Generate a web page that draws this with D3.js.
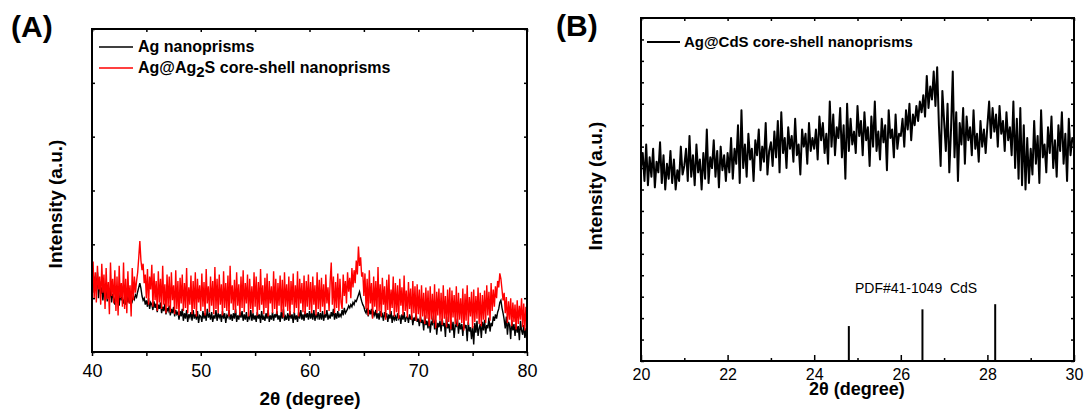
<!DOCTYPE html>
<html>
<head>
<meta charset="utf-8">
<script src="https://cdn.jsdelivr.net/npm/d3@7"></script>
<style>
  body { margin: 0; background: #fff; }
  svg { display: block; font-family: "Liberation Sans", Arial, sans-serif; }
  .frame { fill: none; stroke: #000; stroke-width: 2; }
  .axis path { display: none; }
  .axis line { stroke: #000; stroke-width: 1.5; }
  .axis text { fill: #000; }
</style>
</head>
<body>
<svg width="1088" height="414"></svg>
<script>
// ---- panel A: 2theta 40..80, one value every 0.1 degree ----
const aStart = 40, aEnd = 80
const agValues = [
  62,78,55,70,58,74,50,66,54,60,
  48,58,52,62,47,56,50,59,46,54,
  50,44,55,47,52,43,56,48,51,45,
  49,44,53,46,51,45,50,47,52,49,
  53,51,56,60,64,59,52,48,50,44,
  48,42,50,40,46,44,39,47,41,45,
  37,44,40,46,36,42,38,45,35,41,
  38,43,34,40,36,42,33,39,35,37,
  30,38,33,40,29,36,31,39,28,35,
  32,37,29,39,31,35,30,38,27,34,
  33,28,38,31,36,29,40,32,35,30,
  37,28,34,31,39,29,36,32,35,28,
  38,31,36,27,34,32,39,30,35,29,
  36,31,40,28,34,30,37,32,38,29,
  35,30,37,28,33,31,39,29,36,30,
  34,28,37,31,35,27,38,30,33,29,
  36,31,39,28,34,30,37,29,35,32,
  38,30,34,28,37,31,40,29,33,30,
  36,29,38,31,35,27,37,30,34,28,
  37,31,39,30,35,29,38,32,36,30,
  38,31,36,30,39,29,35,32,37,30,
  36,30,38,29,35,32,39,30,34,31,
  37,33,40,30,36,31,38,32,35,33,
  39,34,41,36,38,40,43,41,44,42,
  46,44,48,47,50,53,56,51,47,44,
  42,38,36,41,33,39,35,40,32,37,
  34,39,31,36,30,38,33,35,29,37,
  32,36,28,35,31,38,27,34,30,33,
  29,36,31,34,26,35,30,37,28,32,
  33,27,35,30,34,25,32,29,36,28,
  31,24,33,27,30,20,34,25,29,22,
  32,18,28,26,34,21,30,16,27,23,
  29,19,31,24,27,14,33,22,26,18,
  30,20,28,13,25,24,31,17,27,21,
  26,15,29,22,25,10,28,19,23,12,
  24,7,27,18,29,15,22,26,13,28,
  20,30,17,25,22,32,19,27,24,33,
  29,35,31,37,40,46,48,41,36,30,
  22,33,16,28,25,12,30,20,26,15,
  27,18,24,11,29,20,16,25,13,22,
  8
]
const agsValues = [
  62,84,50,74,46,80,58,70,44,82,
  55,72,40,78,49,65,35,83,52,68,
  45,76,38,70,34,80,50,64,42,83,
  40,68,36,75,45,62,33,78,48,70,
  55,66,74,88,103,85,76,82,64,72,
  50,77,44,70,58,81,42,73,48,66,
  38,75,46,68,40,80,44,63,36,72,
  42,70,37,74,48,62,35,76,40,66,
  34,69,45,72,38,64,41,78,36,60,
  44,71,35,66,40,74,33,68,46,62,
  38,73,42,65,34,77,45,61,37,70,
  43,66,35,79,40,68,36,72,44,63,
  34,75,41,64,38,71,33,80,45,62,
  39,67,36,74,43,63,34,70,41,76,
  37,64,45,72,33,68,40,61,36,74,
  42,70,34,65,39,77,44,62,35,69,
  41,73,33,66,45,61,36,75,40,68,
  35,64,43,71,37,67,32,74,42,63,
  38,70,34,66,44,73,36,62,41,75,
  33,68,45,64,37,71,35,66,42,72,
  39,65,36,70,44,62,34,74,40,67,
  37,69,42,63,35,72,45,60,38,66,
  83,44,70,36,65,41,73,38,68,46,
  40,72,52,66,45,74,56,69,50,78,
  60,76,64,85,72,98,80,88,70,74,
  52,73,40,68,34,76,45,64,31,70,
  42,66,36,79,38,63,33,69,44,61,
  30,67,39,72,35,58,41,70,33,64,
  37,62,31,68,43,60,34,71,38,57,
  32,65,40,59,30,66,36,61,29,63,
  35,58,28,62,33,55,26,60,31,57,
  24,61,30,54,27,63,22,56,34,59,
  29,55,25,62,31,52,23,58,28,60,
  21,57,32,53,26,61,24,55,30,50,
  27,59,20,54,29,62,25,51,33,56,
  22,58,28,52,31,60,26,55,24,53,
  30,57,27,62,34,56,29,64,38,58,
  42,61,50,66,60,73,68,58,48,55,
  36,51,27,47,30,50,24,46,28,44,
  21,48,26,43,30,50,23,45,20,42,
  26
]
const aTicks = [40, 45, 50, 55, 60, 65, 70, 75, 80]

// ---- panel B: 2theta 20..30, one value every 0.04 degree ----
const bStart = 20, bEnd = 30
const cdsValues = [
  90,97,84,101,82,95,86,99,81,93,88,102,83,96,80,92,85,98,83,94,80,89,84,100,87,
  91,99,84,105,86,96,82,101,88,94,80,97,85,108,83,95,90,103,86,98,81,100,89,96,84,
  97,88,104,85,99,92,110,83,117,90,101,86,106,94,99,84,103,96,108,89,100,93,111,87,98,
  102,91,107,95,112,88,116,97,104,90,109,99,105,93,113,96,101,87,108,100,106,92,111,98,104,
  99,108,94,114,103,111,97,106,92,121,100,115,96,109,104,118,95,110,85,120,98,113,101,107,97,
  119,105,112,96,116,103,109,91,114,100,121,98,107,94,113,102,110,89,117,104,108,95,115,99,106,
  105,113,100,117,108,120,103,115,110,119,112,121,116,124,114,133,118,128,122,135,119,137,110,91,126,
  112,98,120,88,108,135,95,116,84,111,101,118,92,114,103,109,96,117,99,106,93,112,100,108,97,
  110,121,104,118,107,115,100,119,106,112,98,116,103,109,96,121,90,113,85,118,82,110,80,104,83,
  99,87,112,92,105,83,117,95,101,88,109,97,114,90,103,86,110,98,116,92,106,84,113,96,104,
  102
]
// reference pattern PDF#41-1049
const pdfPos = [24.8, 26.5, 28.18]
const pdfInt = [16.3, 24.1, 26.5]
const bMajor = [20, 22, 24, 26, 28, 30]
const bMinor = [21, 23, 25, 27, 29]

const svg = d3.select('svg')

function toPoints(start, end, vals) {
  const step = (end - start) / (vals.length - 1)
  return vals.map((v, i) => [start + i * step, v])
}

// ================= panel A =================
const ax = d3.scaleLinear().domain([40, 80]).range([92, 527])
const ay = d3.scaleLinear().domain([0, 300]).range([352, 29])
const lineA = d3.line().x(d => ax(d[0])).y(d => ay(d[1]))
const gA = svg.append('g')

gA.append('path')
  .datum(toPoints(aStart, aEnd, agValues))
  .attr('d', lineA)
  .attr('fill', 'none').attr('stroke', '#000').attr('stroke-width', 1.4)

gA.append('path')
  .datum(toPoints(aStart, aEnd, agsValues))
  .attr('d', lineA)
  .attr('fill', 'none').attr('stroke', '#ff0000').attr('stroke-width', 1.4)

gA.append('g').attr('class', 'axis').attr('transform', 'translate(0,352)')
  .call(d3.axisBottom(ax).tickValues(aTicks).tickSize(4).tickPadding(8)
    .tickFormat(d => d % 10 === 0 ? d : ''))
  .selectAll('text').attr('font-size', 18)
gA.append('g').attr('class', 'axis').attr('transform', 'translate(0,29)')
  .call(d3.axisTop(ax).tickValues(aTicks).tickSize(-3).tickFormat(''))
gA.append('g').attr('class', 'axis').attr('transform', 'translate(92,0)')
  .call(d3.axisLeft(ay).ticks(6).tickSize(-3).tickFormat(''))
gA.append('g').attr('class', 'axis').attr('transform', 'translate(527,0)')
  .call(d3.axisRight(ay).ticks(6).tickSize(-3).tickFormat(''))

gA.append('rect').attr('class', 'frame')
  .attr('x', 92).attr('y', 29).attr('width', 435).attr('height', 323)

gA.append('text').attr('x', 310).attr('y', 405).attr('text-anchor', 'middle')
  .attr('font-size', 19).attr('font-weight', 'bold').text('2θ (degree)')
gA.append('text').attr('transform', 'translate(62,204) rotate(-90)')
  .attr('text-anchor', 'middle').attr('font-size', 19).attr('font-weight', 'bold')
  .text('Intensity (a.u.)')
gA.append('text').attr('x', 11).attr('y', 37)
  .attr('font-size', 30).attr('font-weight', 'bold').text('(A)')

// legend A
gA.append('line').attr('x1', 99).attr('x2', 133).attr('y1', 47).attr('y2', 47)
  .attr('stroke', '#000').attr('stroke-width', 1.3)
gA.append('text').attr('x', 138).attr('y', 52)
  .attr('font-size', 16).attr('font-weight', 'bold').text('Ag nanoprisms')
gA.append('line').attr('x1', 99).attr('x2', 133).attr('y1', 68).attr('y2', 68)
  .attr('stroke', '#ff0000').attr('stroke-width', 1.3)
const leg2 = gA.append('text').attr('x', 138).attr('y', 73)
  .attr('font-size', 16).attr('font-weight', 'bold')
leg2.append('tspan').text('Ag@Ag')
leg2.append('tspan').attr('dy', 4).attr('font-size', 15).text('2')
leg2.append('tspan').attr('dy', -4).text('S core-shell nanoprisms')

// ================= panel B =================
const bx = d3.scaleLinear().domain([20, 30]).range([641, 1074])
const by = d3.scaleLinear().domain([0, 160]).range([361, 18])
const lineB = d3.line().x(d => bx(d[0])).y(d => by(d[1]))
const gB = svg.append('g')

gB.append('path')
  .datum(toPoints(bStart, bEnd, cdsValues))
  .attr('d', lineB)
  .attr('fill', 'none').attr('stroke', '#000').attr('stroke-width', 2)
  .attr('stroke-linejoin', 'round')

gB.selectAll('.stick').data(pdfPos).enter().append('line')
  .attr('class', 'stick')
  .attr('x1', d => bx(d)).attr('x2', d => bx(d))
  .attr('y1', by(0)).attr('y2', (d, i) => by(pdfInt[i]))
  .attr('stroke', '#000').attr('stroke-width', 2)

gB.append('g').attr('class', 'axis').attr('transform', 'translate(0,361)')
  .call(d3.axisBottom(bx).tickValues(bMajor).tickSize(-6).tickPadding(8))
  .selectAll('text').attr('font-size', 16)
gB.append('g').attr('class', 'axis').attr('transform', 'translate(0,361)')
  .call(d3.axisBottom(bx).tickValues(bMinor).tickSize(-3).tickFormat(''))
gB.append('g').attr('class', 'axis').attr('transform', 'translate(0,18)')
  .call(d3.axisTop(bx).tickValues(bMajor.concat(bMinor)).tickSize(-3).tickFormat(''))
gB.append('g').attr('class', 'axis').attr('transform', 'translate(641,0)')
  .call(d3.axisLeft(by).ticks(16).tickSize(-3).tickFormat(''))
gB.append('g').attr('class', 'axis').attr('transform', 'translate(1074,0)')
  .call(d3.axisRight(by).ticks(16).tickSize(-3).tickFormat(''))

gB.append('rect').attr('class', 'frame')
  .attr('x', 641).attr('y', 18).attr('width', 433).attr('height', 343)

gB.append('text').attr('x', 857).attr('y', 395).attr('text-anchor', 'middle')
  .attr('font-size', 18).attr('font-weight', 'bold').text('2θ (degree)')
gB.append('text').attr('transform', 'translate(602,186) rotate(-90)')
  .attr('text-anchor', 'middle').attr('font-size', 19).attr('font-weight', 'bold')
  .text('Intensity (a.u.)')
gB.append('text').attr('x', 556).attr('y', 36)
  .attr('font-size', 30).attr('font-weight', 'bold').text('(B)')

gB.append('line').attr('x1', 647).attr('x2', 680).attr('y1', 42).attr('y2', 42)
  .attr('stroke', '#000').attr('stroke-width', 2)
gB.append('text').attr('x', 684).attr('y', 47)
  .attr('font-size', 15).attr('font-weight', 'bold').text('Ag@CdS core-shell nanoprisms')
gB.append('text').attr('x', 855).attr('y', 293)
  .attr('font-size', 14).text('PDF#41-1049  CdS')
  .attr('xml:space', 'preserve').style('white-space', 'pre')
</script>
</body>
</html>
